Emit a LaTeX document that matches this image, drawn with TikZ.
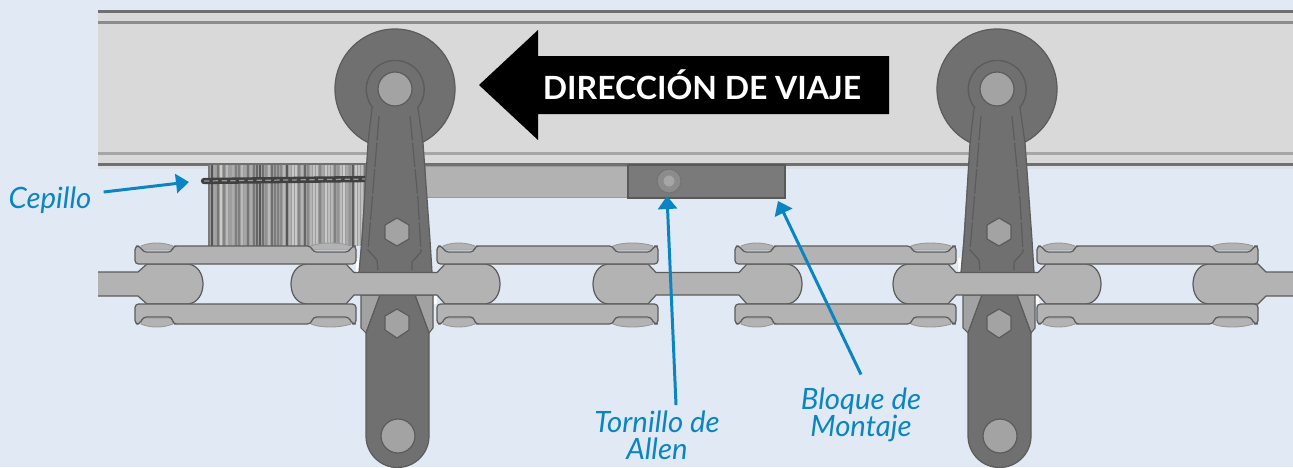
\documentclass[tikz,border=0pt]{standalone}
\usepackage{fontspec}
\setmainfont{Lato}
\usetikzlibrary{arrows.meta}
\definecolor{pagebg}{HTML}{E1E9F5}
\definecolor{railgray}{HTML}{D9D9D9}
\definecolor{linkgray}{HTML}{B3B3B3}
\definecolor{armgray}{HTML}{707070}
\definecolor{pingray}{HTML}{A3A3A3}
\definecolor{edgegray}{HTML}{5C5C5C}
\definecolor{labelblue}{HTML}{0A85C2}
\tikzset{
  linkpart/.style={fill=linkgray, draw=edgegray, line width=.7pt, line join=round},
  rivetpart/.style={fill=linkgray, draw=black!40, line width=.5pt, line join=round},
  armpart/.style={fill=armgray, draw=edgegray, line width=.7pt, line join=round},
  pinpart/.style={fill=pingray, draw=edgegray, line width=.7pt},
  callout/.style={draw=labelblue, line width=1.7pt, -{Triangle[length=.26cm, width=.38cm]}},
  calloutlabel/.style={text=labelblue, align=center, inner sep=0pt, font=\itshape\fontsize{16.7}{15.6}\selectfont}
}
% one bone shaped link, from its left end to its right end
\newcommand{\chainbone}[2]{
  \draw[linkpart] (#1+15,264) -- (#1+55,264) -- (#1+63,272.5) -- (#2-63,272.5) -- (#2-55,264) -- (#2-15,264)
    .. controls (#2+5,266) and (#2+5,302) .. (#2-15,304) -- (#2-55,304) -- (#2-63,295) -- (#1+63,295) -- (#1+55,304) -- (#1+15,304)
    .. controls (#1-5,302) and (#1-5,266) .. cycle;
}
% upper and lower plate with their rivets
\newcommand{\chainplate}[1]{
  \begin{scope}[shift={(#1,0)}]
    \draw[rivetpart] (6,246) .. controls (15,242) and (28,242) .. (38,246) -- (38,250) -- (6,250) -- cycle;
    \draw[rivetpart] (176,246) .. controls (185,242) and (205,242) .. (216,246) -- (216,250) -- (176,250) -- cycle;
    \draw[linkpart, rounded corners=2] (0,246) -- (5,246) -- (8,252) -- (37,252) -- (38,246) -- (43,246) -- (176,246) -- (178,252) -- (214,252) -- (217,246) -- (221,246) -- (221,264) -- (0,264) -- cycle;
    \draw[rivetpart] (6,324) .. controls (15,328) and (28,328) .. (38,324) -- (38,318) -- (6,318) -- cycle;
    \draw[rivetpart] (176,324) .. controls (185,328) and (205,328) .. (216,324) -- (216,318) -- (176,318) -- cycle;
    \draw[linkpart, rounded corners=2] (0,304) -- (221,304) -- (221,324) -- (217,324) -- (214,317) -- (178,317) -- (176,324) -- (43,324) -- (38,324) -- (37,317) -- (8,317) -- (5,324) -- (0,324) -- cycle;
  \end{scope}
}
% roller with its arm above the link
\newcommand{\upperarm}[1]{
  \begin{scope}[shift={(#1,0)}]
    \draw[armpart] (0,89) circle (60);
    \fill[white] (-39,258) -- (-36,258) -- (-36,272) -- (-39,272) -- cycle;
    \fill[white] (38,296) -- (42,296) -- (42,304) -- (38,304) -- cycle;
    \fill[armgray] (-23,108) -- (-27,143) -- (-36,272) -- (37,272) -- (28,143) -- (23,108) -- cycle;
    \draw[edgegray, line width=.7pt] (-23,108) -- (-27,143) -- (-33,240) -- (-36,272) (23,108) -- (28,143) -- (35,240) -- (37,272);
    \draw[edgegray, line width=.7pt, dash pattern=on 14pt off 1.2pt] (-16,116) -- (-22,190) -- (-27,250) -- (-18,260) -- (-17,272) (15,116) -- (23,200) -- (26,252) -- (17,262) -- (17,272);
    \draw[edgegray, line width=.8pt] (-22,108) arc[start angle=140, end angle=400, radius=29];
    \draw[pinpart] (0,89) circle (17);
    \draw[pinpart] (2,218) -- (14,225) -- (14,239) -- (2,246) -- (-10,239) -- (-10,225) -- cycle;
  \end{scope}
}
% the arm below the link
\newcommand{\lowerarm}[1]{
  \begin{scope}[shift={(#1,0)}]
    \draw[fill=linkgray!75!armgray, draw=edgegray, line width=.6pt] (-34,295) -- (-34,328) -- (-29,333) -- (-15,295) -- cycle;
    \draw[fill=linkgray!75!armgray, draw=edgegray, line width=.6pt] (38,295) -- (38,328) -- (34,333) -- (20,295) -- cycle;
    \draw[armpart] (-15,295) -- (-29,333) -- (-29,436) arc[start angle=180, end angle=0, radius=31.5] -- (34,333) -- (20,295) -- cycle;
    \draw[pinpart] (3,436) circle (17);
    \draw[pinpart] (2,309) -- (14,316) -- (14,330) -- (2,338) -- (-10,330) -- (-10,316) -- cycle;
  \end{scope}
}

\begin{document}
\begin{tikzpicture}[x=.02cm, y=-.02cm]
    \fill[pagebg] (0,0) rectangle (1293,467);
    \useasboundingbox (0,0) rectangle (1293,467);
    % rail
    \fill[railgray] (98,10) rectangle (1293,165);
    \fill[armgray] (98,10) rectangle (1293,13);
    \fill[black!45] (98,21) rectangle (1293,24);
    \fill[black!35] (98,152) rectangle (1293,155);
    \fill[armgray] (98,163) rectangle (1293,165.5);
    \fill[railgray!50!pagebg] (98,165.5) rectangle (1293,169);
    % brush
    \fill[black!38] (208,165) rectangle (366,246);
    \pgfmathsetseed{11}
    \foreach \x in {209,212,...,365} {
      \pgfmathsetmacro{\shade}{int(18+rnd*52)}
      \draw[black!\shade, line width=.9pt] (\x,165) -- (\x,246);
    }
    \draw[black!75, line width=3.6pt, line cap=round] (204,181) -- (368,179);
    \draw[black!40, line width=.7pt, dash pattern=on 3pt off 2pt] (204,181) -- (368,179);
    % mounting block
    \draw[fill=black!30, draw=black!40, line width=.5pt] (425,166) rectangle (628,197);
    \draw[fill=black!52, draw=black!65, line width=.8pt] (628,165) rectangle (785,198);
    \draw[fill=black!45, draw=black!55, line width=.6pt] (669,181) circle (12);
    \draw[fill=black!35, draw=black!45, line width=.5pt] (669,181) circle (6);
    % arms and chain
    \upperarm{395}
    \upperarm{997}
    \lowerarm{395}
    \lowerarm{997}
    \draw[linkpart] (98,272) -- (138,272) -- (147,264) -- (188,264) .. controls (208,266) and (208,302) .. (188,304) -- (147,304) -- (138,296) -- (98,296);
    \chainbone{291}{500}
    \chainbone{593}{802}
    \chainbone{893}{1101}
    \draw[linkpart] (1293,272) -- (1266,272) -- (1258,264) -- (1208,264) .. controls (1188,266) and (1188,302) .. (1208,304) -- (1258,304) -- (1266,296) -- (1293,296);
    \chainplate{135}
    \chainplate{437}
    \chainplate{735}
    \chainplate{1037}
    % direction arrow
    \fill[black] (479,85) -- (538,30) -- (538,56) -- (889,56) -- (889,114) -- (538,114) -- (538,140) -- cycle;
    \node[text=white, font=\bfseries\fontsize{18.2}{20}\selectfont] (viaje) at (702,85) {DIRECCIÓN DE VIAJE};
    % labels
    \node[calloutlabel] (cepillo) at (50,200) {Cepillo};
    \node[calloutlabel] (tornillo) at (657,435) {Tornillo de\\Allen};
    \node[calloutlabel] (bloque) at (861,415) {Bloque de\\Montaje};
    \draw[callout] ([xshift=.24cm, yshift=.16cm]cepillo.east) -- (189,182);
    \draw[callout] ([xshift=.38cm, yshift=.1cm]tornillo.north) -- (667,196);
    \draw[callout] ([yshift=.26cm]bloque.north) -- (778,201);
  \end{tikzpicture}
\end{document}
